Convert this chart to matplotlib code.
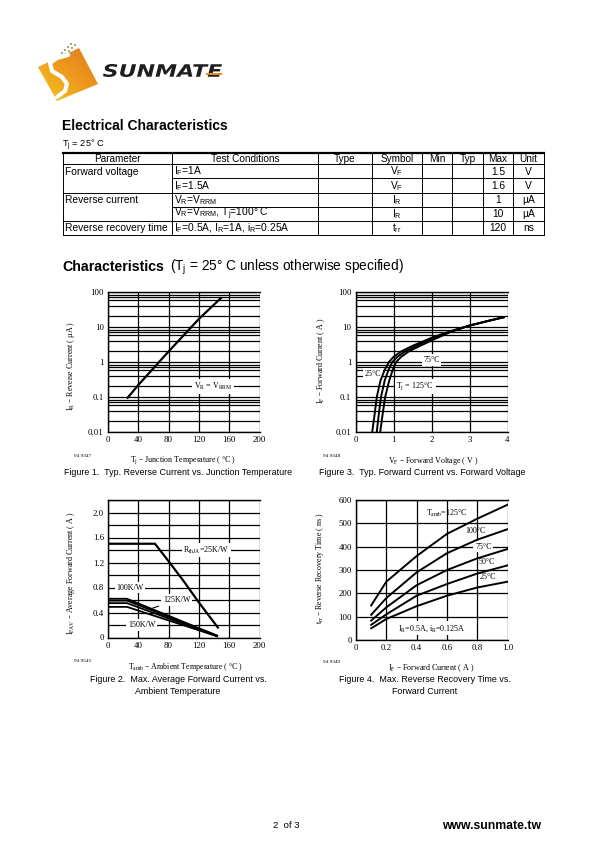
import numpy as np
import matplotlib.pyplot as plt
from matplotlib.patches import Polygon, PathPatch
from matplotlib.textpath import TextPath
from matplotlib.font_manager import FontProperties
from matplotlib.transforms import Affine2D
from matplotlib.ticker import FixedLocator, LogLocator, NullFormatter
from matplotlib.colors import LinearSegmentedColormap

W, H = 610, 850
SANS = ['Liberation Sans', 'DejaVu Sans']
SERIF = ['Liberation Serif', 'DejaVu Serif']

# ---------------- table data ----------------
tbl_header = ["Parameter", "Test Conditions", "Type", "Symbol", "Min", "Typ", "Max", "Unit"]
tbl_param = ["Forward voltage", "", "Reverse current", "", "Reverse recovery time"]
tbl_cond = [r"I$_{\mathregular{F}}$=1A",
            r"I$_{\mathregular{F}}$=1.5A",
            r"V$_{\mathregular{R}}$=V$_{\mathregular{RRM}}$",
            r"V$_{\mathregular{R}}$=V$_{\mathregular{RRM}}$, T$_{\mathregular{j}}$=100° C",
            r"I$_{\mathregular{F}}$=0.5A, I$_{\mathregular{R}}$=1A, i$_{\mathregular{R}}$=0.25A"]
tbl_symbol = [r"V$_{\mathregular{F}}$", r"V$_{\mathregular{F}}$", r"I$_{\mathregular{R}}$",
              r"I$_{\mathregular{R}}$", r"t$_{\mathregular{rr}}$"]
tbl_max = ["1.5", "1.6", "1", "10", "120"]
tbl_unit = ["V", "V", "µA", "µA", "ns"]

# ---------------- figure 1: reverse current vs junction temperature ----------------
f1_temp = [25, 40, 80, 120, 150]
f1_ir = [0.09, 0.22, 2.0, 17, 70]

# ---------------- figure 3: forward current vs forward voltage ----------------
f3_v125 = [0.44, 0.50, 0.56, 0.66, 0.77, 0.88, 1.0, 1.2, 1.5, 2.0, 2.5, 3.0, 3.5, 3.9]
f3_i125 = [0.01, 0.03, 0.1, 0.3, 0.6, 1.0, 1.4, 2.0, 2.9, 4.9, 7.6, 11, 15, 19]
f3_v75 = [0.56, 0.61, 0.67, 0.77, 0.87, 0.97, 1.1, 1.3, 1.6, 2.0, 2.5, 3.0, 3.5, 3.9]
f3_i75 = [0.01, 0.03, 0.1, 0.3, 0.6, 1.0, 1.4, 2.0, 2.9, 4.6, 7.4, 11, 15, 19]
f3_v25 = [0.65, 0.71, 0.78, 0.89, 0.98, 1.07, 1.2, 1.4, 1.7, 2.1, 2.5, 3.0, 3.5, 3.9]
f3_i25 = [0.01, 0.03, 0.1, 0.3, 0.6, 1.0, 1.4, 2.0, 2.9, 4.6, 7.2, 11, 15, 19]

# ---------------- figure 2: average forward current vs ambient temperature ----------------
f2_t25 = [0, 62, 80, 100, 120, 145]
f2_i25 = [1.5, 1.5, 1.22, 0.9, 0.56, 0.16]
f2_t_low = [0, 25, 144]
f2_i100 = [0.62, 0.62, 0.03]
f2_i110 = [0.59, 0.59, 0.03]
f2_i125 = [0.55, 0.55, 0.02]
f2_i150 = [0.49, 0.49, 0.02]

# ---------------- figure 4: reverse recovery time vs forward current ----------------
f4_if = [0.1, 0.2, 0.4, 0.6, 0.8, 1.0]
f4_t125 = [148, 250, 360, 455, 520, 580]
f4_t100 = [108, 180, 290, 372, 430, 475]
f4_t75 = [83, 140, 235, 300, 350, 390]
f4_t50 = [65, 110, 190, 240, 285, 320]
f4_t25 = [50, 90, 145, 190, 225, 250]


def rect(l, t, r, b):
    return [l / W, 1 - b / H, (r - l) / W, (b - t) / H]


fig = plt.figure(figsize=(6.1, 8.5), dpi=100)
fig.patch.set_facecolor('white')

page = fig.add_axes([0, 0, 1, 1])
page.set_xlim(0, W)
page.set_ylim(H, 0)
page.axis('off')

# ---------------- logo ----------------
sq = Polygon([(38, 67), (79, 48), (98, 84), (57, 101)], closed=True, fc='none', ec='none')
page.add_patch(sq)
gy, gx = np.mgrid[0:1:60j, 0:1:60j]
grad = (gx + (1 - gy)) / 2
cmap = LinearSegmentedColormap.from_list('logo', ['#F6C81E', '#EE9B1E', '#E07A1C'])
im = page.imshow(grad, cmap=cmap, extent=(38, 98, 101, 48), origin='upper', aspect='auto')
im.set_clip_path(sq)
page.plot([68, 57, 50, 52, 62, 67, 65, 57], [55, 58, 63, 71, 77, 84, 91, 97],
          color='white', lw=3.0, solid_capstyle='round', solid_joinstyle='round')
for dx, dy in [(61, 52), (64, 49), (67, 46), (70, 43), (65, 53), (68, 50), (71, 47),
               (74, 44), (69, 54), (72, 51)]:
    page.add_patch(plt.Rectangle((dx, dy), 2.2, 2.2, fc='#A9A978', ec='none'))
fp = FontProperties(family='DejaVu Sans', weight='bold', style='italic')
tp = TextPath((0, 0), "SUNMATE", size=10, prop=fp)
ext = tp.get_extents()
tr = Affine2D().translate(-ext.x0, -ext.y0).scale(119 / ext.width, -13 / ext.height).translate(103, 77)
page.add_patch(PathPatch(tr.transform_path(tp), fc='#1e1e1e', ec='none'))
page.add_patch(plt.Rectangle((206, 72.5), 16, 2, fc='#E8891C', ec='none'))
page.set_xlim(0, W)
page.set_ylim(H, 0)

# ---------------- electrical characteristics table ----------------
page.text(62, 126, "Electrical Characteristics", fontsize=10, fontweight='bold',
          family=SANS, va='center', ha='left')
page.text(62, 145, r"T$_{\mathregular{j}}$ = 25° C", fontsize=6.7, family=SANS,
          va='center', ha='left')

cols = [63, 172, 318, 372, 422, 452, 483, 513, 544]
rows = [152.5, 164, 178, 192.5, 206.5, 220.5, 234.5]
page.plot([cols[0], cols[-1]], [rows[0], rows[0]], color='black', lw=1.6)
for i, y in enumerate(rows[1:], start=1):
    x0 = cols[1] if i in (2, 4) else cols[0]
    page.plot([x0, cols[-1]], [y, y], color='black', lw=0.7)
for x in cols:
    page.plot([x, x], [rows[0], rows[-1]], color='black', lw=0.7)

for j, h in enumerate(tbl_header):
    page.text((cols[j] + cols[j + 1]) / 2, (rows[0] + rows[1]) / 2 + 0.5, h, fontsize=7.2,
              family=SANS, ha='center', va='center')
for i in range(5):
    yc = (rows[i + 1] + rows[i + 2]) / 2 + 0.5
    if tbl_param[i]:
        page.text(cols[0] + 2, yc, tbl_param[i], fontsize=7.4, family=SANS, va='center')
    page.text(cols[1] + 2, yc, tbl_cond[i], fontsize=7.4, family=SANS, va='center')
    page.text((cols[3] + cols[4]) / 2, yc, tbl_symbol[i], fontsize=7.4, family=SANS,
              ha='center', va='center')
    page.text((cols[6] + cols[7]) / 2, yc, tbl_max[i], fontsize=7.4, family=SANS,
              ha='center', va='center')
    page.text((cols[7] + cols[8]) / 2, yc, tbl_unit[i], fontsize=7.4, family=SANS,
              ha='center', va='center')

page.text(62, 267, "Characteristics", fontsize=10.2, fontweight='bold', family=SANS,
          va='center')
page.text(170, 267, r"(T$_{\mathregular{j}}$ = 25° C unless otherwise specified)",
          fontsize=9.8, family=SANS, va='center')


# ---------------- chart helpers ----------------
def style(ax):
    for s in ['left', 'bottom', 'top']:
        ax.spines[s].set_color('black')
        ax.spines[s].set_linewidth(1.0)
    ax.spines['right'].set_visible(False)
    ax.tick_params(which='both', length=0, labelsize=6.4, pad=3)
    for lab in ax.get_xticklabels() + ax.get_yticklabels():
        lab.set_family(SERIF)
    ax.set_axisbelow(True)
    ax.grid(which='both', color='black', lw=0.9)


def boxed(ax, x, y, s, ha='center'):
    ax.text(x, y, s, fontsize=5.8, family=SERIF, ha=ha, va='center', zorder=3,
            bbox=dict(facecolor='white', edgecolor='none', pad=1.2))


log_ticks = [0.01, 0.1, 1, 10, 100]
log_labels = ["0.01", "0.1", "1", "10", "100"]
minor_subs = [2, 4, 6, 7, 8]
lab_fs = 5.8

# figure 1
ax1 = fig.add_axes(rect(108, 292, 259.5, 432))
ax1.set_yscale('log')
ax1.set_xlim(0, 200)
ax1.set_ylim(0.01, 100)
ax1.set_xticks([0, 40, 80, 120, 160, 200])
ax1.yaxis.set_major_locator(FixedLocator(log_ticks))
ax1.set_yticklabels(log_labels)
ax1.yaxis.set_minor_locator(LogLocator(base=10, subs=minor_subs))
ax1.yaxis.set_minor_formatter(NullFormatter())
style(ax1)
ax1.xaxis.grid(which='minor', visible=False)
ax1.plot(f1_temp, f1_ir, color='black', lw=1.6, zorder=4, solid_capstyle='butt')
boxed(ax1, 139, 0.2, r"V$_{\mathregular{R}}$ = V$_{\mathregular{R RM}}$")
ax1.set_xlabel(r"T$_{\mathregular{j}}$ – Junction Temperature ( °C )", fontsize=lab_fs, family=SERIF)
ax1.set_ylabel(r"I$_{\mathregular{R}}$ – Reverse Current ( µA )", fontsize=lab_fs, family=SERIF)
ax1.xaxis.set_label_coords(0.495, -0.165)
ax1.yaxis.set_label_coords(-0.205, 0.47)

# figure 3
ax3 = fig.add_axes(rect(355.5, 292, 507.5, 432))
ax3.set_yscale('log')
ax3.set_xlim(0, 4)
ax3.set_ylim(0.01, 100)
ax3.set_xticks([0, 1, 2, 3, 4])
ax3.yaxis.set_major_locator(FixedLocator(log_ticks))
ax3.set_yticklabels(log_labels)
ax3.yaxis.set_minor_locator(LogLocator(base=10, subs=minor_subs))
ax3.yaxis.set_minor_formatter(NullFormatter())
style(ax3)
ax3.xaxis.grid(which='minor', visible=False)
for v, i in [(f3_v125, f3_i125), (f3_v75, f3_i75), (f3_v25, f3_i25)]:
    ax3.plot(v, i, color='black', lw=1.4, zorder=4)
boxed(ax3, 0.46, 0.45, "25°C")
boxed(ax3, 2.0, 1.15, "75°C")
boxed(ax3, 1.57, 0.2, r"T$_{\mathregular{j}}$ = 125°C")
ax3.set_xlabel(r"V$_{\mathregular{F}}$ – Forward Voltage ( V )", fontsize=lab_fs, family=SERIF)
ax3.set_ylabel(r"I$_{\mathregular{F}}$ – Forward Current ( A )", fontsize=lab_fs, family=SERIF)
ax3.xaxis.set_label_coords(0.51, -0.165)
ax3.yaxis.set_label_coords(-0.19, 0.51)

# figure 2
ax2 = fig.add_axes(rect(108, 500, 259.5, 637.5))
ax2.set_xlim(0, 200)
ax2.set_ylim(0, 2.2)
ax2.set_xticks([0, 40, 80, 120, 160, 200])
ax2.set_yticks([0, 0.4, 0.8, 1.2, 1.6, 2.0])
ax2.set_yticklabels(["0", "0.4", "0.8", "1.2", "1.6", "2.0"])
ax2.yaxis.set_minor_locator(FixedLocator([0.2, 0.6, 1.0, 1.4, 1.8, 2.2]))
style(ax2)
ax2.xaxis.grid(which='minor', visible=False)
ax2.plot(f2_t25, f2_i25, color='black', lw=1.6, zorder=4)
for ii in [f2_i100, f2_i110, f2_i125, f2_i150]:
    ax2.plot(f2_t_low, ii, color='black', lw=1.3, zorder=4)
boxed(ax2, 130, 1.4, r"R$_{\mathregular{thJA}}$=25K/W")
boxed(ax2, 29, 0.8, "100K/W")
boxed(ax2, 44.5, 0.2, "150K/W")
ax2.annotate("125K/W", xy=(59, 0.47), xytext=(90.7, 0.6), fontsize=5.8, family=SERIF,
             ha='center', va='center', zorder=3,
             bbox=dict(facecolor='white', edgecolor='none', pad=1.2),
             arrowprops=dict(arrowstyle='-', color='black', lw=0.8, shrinkA=2, shrinkB=0))
ax2.set_xlabel(r"T$_{\mathregular{amb}}$ – Ambient Temperature ( °C )", fontsize=lab_fs, family=SERIF)
ax2.set_ylabel(r"I$_{\mathregular{FAV}}$ – Average Forward Current ( A )", fontsize=lab_fs,
               family=SERIF)
ax2.xaxis.set_label_coords(0.51, -0.17)
ax2.yaxis.set_label_coords(-0.205, 0.47)

# figure 4
ax4 = fig.add_axes(rect(356, 500, 507.7, 640))
ax4.set_xlim(0, 1.0)
ax4.set_ylim(0, 600)
ax4.set_xticks([0, 0.2, 0.4, 0.6, 0.8, 1.0])
ax4.set_xticklabels(["0", "0.2", "0.4", "0.6", "0.8", "1.0"])
ax4.set_yticks([0, 100, 200, 300, 400, 500, 600])
style(ax4)
for t in [f4_t125, f4_t100, f4_t75, f4_t50, f4_t25]:
    ax4.plot(f4_if, t, color='black', lw=1.4, zorder=4)
ax4.text(0.6, 545, r"T$_{\mathregular{amb}}$=125°C", fontsize=5.8, family=SERIF,
         ha='center', va='center')
ax4.text(0.79, 468, "100°C", fontsize=5.8, family=SERIF, ha='center', va='center')
boxed(ax4, 0.84, 400, "75°C")
ax4.text(0.86, 336, "50°C", fontsize=5.8, family=SERIF, ha='center', va='center')
ax4.text(0.87, 269, "25°C", fontsize=5.8, family=SERIF, ha='center', va='center')
ax4.text(0.5, 50, r"I$_{\mathregular{R}}$=0.5A, i$_{\mathregular{R}}$=0.125A", fontsize=5.8,
         family=SERIF, ha='center', va='center', zorder=3,
         bbox=dict(facecolor='white', edgecolor='none', pad=1))
ax4.set_xlabel(r"I$_{\mathregular{F}}$ – Forward Current ( A )", fontsize=lab_fs, family=SERIF)
ax4.set_ylabel(r"t$_{\mathregular{rr}}$ – Reverse Recovery Time ( ns )", fontsize=lab_fs,
               family=SERIF)
ax4.xaxis.set_label_coords(0.494, -0.16)
ax4.yaxis.set_label_coords(-0.2, 0.51)

# drawing numbers and captions
for x, y, s in [(83, 456, "94 9347"), (332, 456, "94 9348"),
                (83, 661, "94 9545"), (332, 662, "94 9349")]:
    page.text(x, y, s, fontsize=3.8, family=SERIF, ha='center', va='center')

cap = dict(fontsize=6.4, family=SANS, ha='center', va='center')
page.text(178, 472, "Figure 1.  Typ. Reverse Current vs. Junction Temperature", **cap)
page.text(422, 472, "Figure 3.  Typ. Forward Current vs. Forward Voltage", **cap)
page.text(178, 680, "Figure 2.  Max. Average Forward Current vs.", **cap)
page.text(178, 691, "Ambient Temperature", **cap)
page.text(425, 680, "Figure 4.  Max. Reverse Recovery Time vs.", **cap)
page.text(425, 691, "Forward Current", **cap)

# footer
page.text(286, 826, "2  of 3", fontsize=6.8, family=SANS, ha='center', va='center')
page.text(541, 826, "www.sunmate.tw", fontsize=8.8, fontweight='bold', family=SANS,
          ha='right', va='center')

fig.savefig('out.png', dpi=100)
